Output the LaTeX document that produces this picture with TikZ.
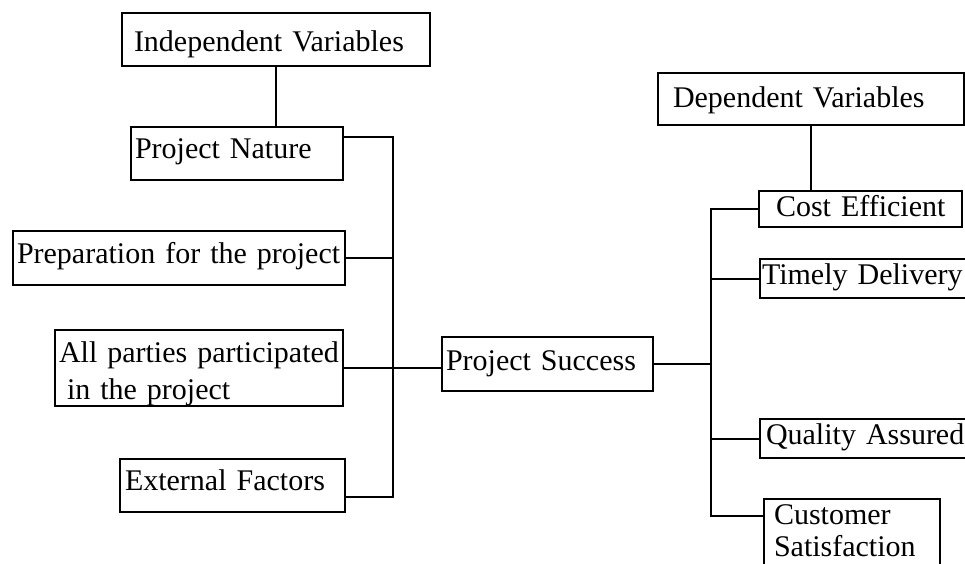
\documentclass[tikz,border=0pt]{standalone}
\usepackage{fontspec}
\setmainfont{Liberation Serif}
\begin{document}
\begin{tikzpicture}[x=1pt,y=-1pt]
\tikzset{
  box/.style={draw, line width=2pt, anchor=north west, inner ysep=0pt, align=left,
    font=\fontsize{30}{36}\selectfont, text=black},
  conn/.style={draw, line width=2pt}
}
\useasboundingbox (0,0) rectangle (965,563);
\fill[white] (0,0) rectangle (965,563);
\clip (0,0) rectangle (965,563);

% left side
\node[box, inner xsep=12pt, text width=284pt, text height=38pt, text depth=15pt] (iv) at (121,12) {\mbox{Independent Variables}};
\node[box, inner xsep=4pt, text width=204pt, text height=31pt, text depth=22pt] (pn) at (130,126) {\mbox{Project Nature}};
\node[box, inner xsep=4pt, text width=324pt, text height=32pt, text depth=22pt] (prep) at (12,230) {\mbox{Preparation for the project}};
\node[box, inner xsep=4pt, text width=280pt, text height=32pt, text depth=44pt,
      font=\fontsize{30}{37}\selectfont] (ap) at (54,329) {\mbox{All parties participated}\\\mbox{\hspace*{8pt}in the project}};
\node[box, inner xsep=5pt, text width=215pt, text height=31pt, text depth=22pt] (ef) at (119,458) {\mbox{External Factors}};

% centre
\node[box, inner xsep=4pt, text width=203pt, text height=33pt, text depth=21pt] (ps) at (441,336) {\mbox{Project Success}};

% right side
\node[box, inner xsep=15pt, text width=276pt, text height=34pt, text depth=18pt] (dv) at (657,72) {\mbox{Dependent Variables}};
\node[box, inner xsep=17pt, text width=169pt, text height=25pt, text depth=11pt] (ce) at (758,190) {\mbox{Cost Efficient}};
\node[box, inner xsep=2pt, text width=211pt, text height=25pt, text depth=14pt] (td) at (759,258) {\mbox{Timely Delivery}};
\node[box, inner xsep=6pt, text width=203pt, text height=25pt, text depth=14pt] (qa) at (759,418) {\mbox{Quality Assured}};
\node[box, inner xsep=10pt, text width=156pt, text height=25pt, text depth=56pt,
      font=\fontsize{30}{32}\selectfont] (cs) at (763,498) {\mbox{Customer}\\\mbox{Satisfaction}};

% bus coordinates
\coordinate (lt) at (393,137);
\coordinate (lb) at (393,497);
\coordinate (rt) at (711,209);
\coordinate (rb) at (711,516);

% connectors
\path[conn] (iv.south) -- (iv.south |- pn.north);
\path[conn] (pn.east |- lt) -- (lt) -- (lb) -- (ef.east |- lb);
\path[conn] (prep.east) -- (prep.east -| lt);
\path[conn] (ap.east) -- (ap.east -| ps.west);

\path[conn] (dv.south) -- (dv.south |- ce.north);
\path[conn] (ps.east) -- (ps.east -| rt);
\path[conn] (ce.west |- rt) -- (rt) -- (rb) -- (cs.west |- rb);
\path[conn] (td.west -| rt) -- (td.west);
\path[conn] (qa.west -| rt) -- (qa.west);
\end{tikzpicture}
\end{document}
